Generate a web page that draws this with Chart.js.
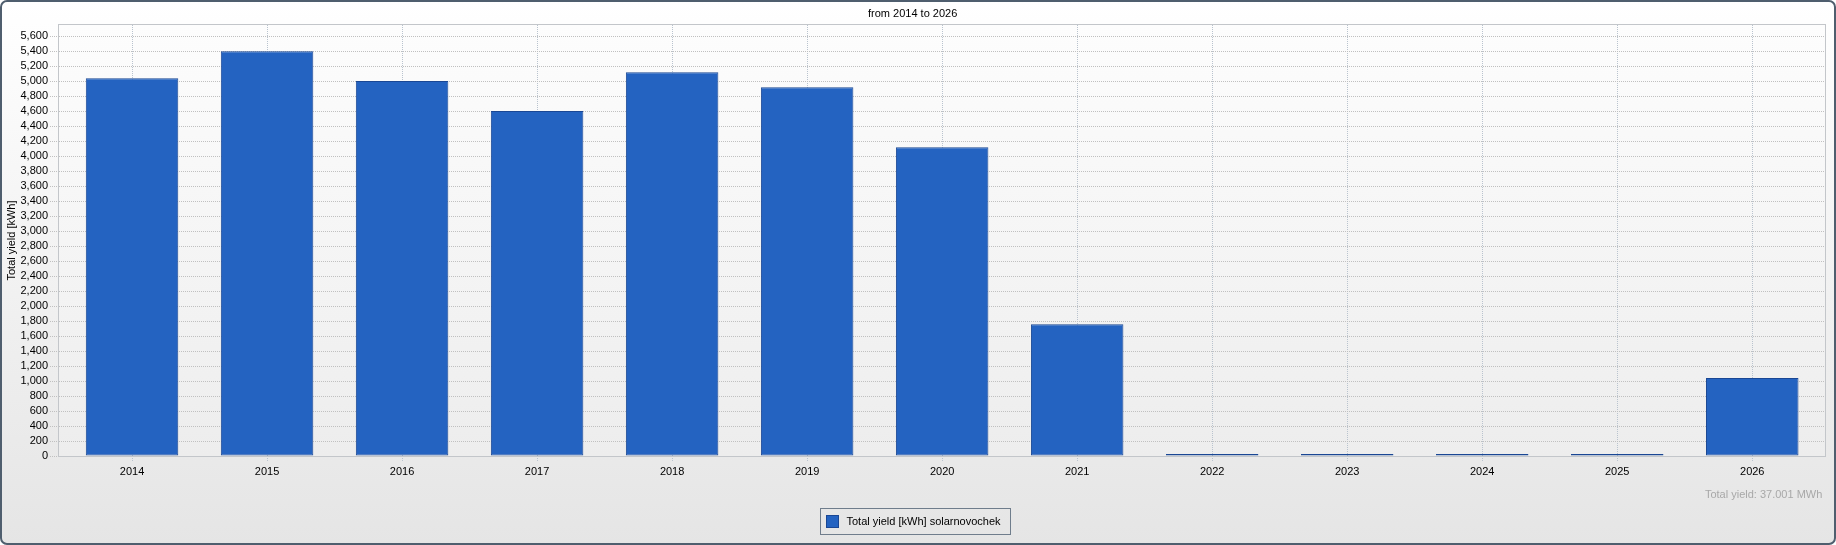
<!DOCTYPE html>
<html>
<head>
<meta charset="utf-8">
<script src="https://cdn.jsdelivr.net/npm/chart.js@4/dist/chart.umd.min.js"></script>
<style>
  html, body { margin: 0; padding: 0; background: #ffffff; overflow: hidden; }
  #wrap { position: relative; width: 1836px; height: 545px; }
</style>
</head>
<body>
<div id="wrap"><canvas id="c"></canvas></div>
<script>
// ---- data ----
const years = ['2014','2015','2016','2017','2018','2019','2020','2021','2022','2023','2024','2025','2026'];
const yieldKWh = [5036, 5396, 5000, 4600, 5116, 4916, 4116, 1756, 19, 2, 2, 2, 1040];
const seriesLabel = 'Total yield [kWh] solarnovochek';
const chartTitle = 'from 2014 to 2026';
const yAxisTitle = 'Total yield [kWh]';
const yTickStep = 200;
const yTickTop = 5600;
const yMax = 5747;

const FONT = '"Liberation Sans", Arial, sans-serif';
const BAR_FILL = '#2463c1';
const BAR_EDGE = '#1a4794';

Chart.defaults.font.family = FONT;
Chart.defaults.font.size = 11;
Chart.defaults.color = '#000000';

const framePlugin = {
  id: 'frame',
  beforeDraw(chart) {
    const ctx = chart.ctx, W = chart.width, H = chart.height;
    ctx.save();
    ctx.fillStyle = '#ffffff';
    ctx.fillRect(0, 0, W, H);
    const g = ctx.createLinearGradient(0, 0, 0, H);
    g.addColorStop(0, '#ffffff');
    g.addColorStop(1, '#e5e5e5');
    ctx.beginPath();
    ctx.roundRect(1, 1, W - 2, H - 2, 6);
    ctx.fillStyle = g;
    ctx.fill();
    ctx.lineWidth = 2;
    ctx.strokeStyle = '#4f5e6e';
    ctx.stroke();
    // plot background
    const a = chart.chartArea;
    const pg = ctx.createLinearGradient(0, a.top, 0, a.bottom);
    pg.addColorStop(0, '#fdfdfd');
    pg.addColorStop(1, '#ededed');
    ctx.fillStyle = pg;
    ctx.fillRect(a.left, a.top, a.right - a.left, a.bottom - a.top);
    ctx.restore();
  },
  beforeDatasetsDraw(chart) {
    const ctx = chart.ctx, a = chart.chartArea;
    ctx.save();
    ctx.lineWidth = 1;
    ctx.strokeStyle = '#c3c6ca';
    ctx.strokeRect(Math.round(a.left) - 0.5, Math.round(a.top) - 0.5,
                   Math.round(a.right - a.left) + 1, Math.round(a.bottom - a.top) + 1);
    ctx.restore();
  },
  afterDraw(chart) {
    const ctx = chart.ctx, a = chart.chartArea;
    ctx.save();
    // total yield note
    const total = chart.data.datasets[0].data.reduce((s, p) => s + p.y, 0);
    ctx.font = '11px ' + FONT;
    ctx.fillStyle = '#a8a8a8';
    ctx.textAlign = 'right';
    ctx.textBaseline = 'middle';
    ctx.fillText('Total yield: ' + (total / 1000).toFixed(3) + ' MWh', a.right - 3, 495);
    // legend
    const label = chart.data.datasets[0].label;
    const tw = ctx.measureText(label).width;
    const bw = Math.round(6 + 12 + 8 + tw + 10);
    const bx = Math.round(chart.width / 2 - 3 - bw / 2) + 0.5;
    const by = 508.5, bh = 26;
    ctx.lineWidth = 1;
    ctx.strokeStyle = '#6f7d8c';
    ctx.strokeRect(bx, by, bw, bh);
    ctx.fillStyle = BAR_FILL;
    ctx.fillRect(bx + 6, by + 7, 12, 12);
    ctx.strokeStyle = BAR_EDGE;
    ctx.strokeRect(bx + 6, by + 7, 12, 12);
    ctx.fillStyle = '#000000';
    ctx.textAlign = 'left';
    ctx.fillText(label, bx + 26, by + 13.5);
    ctx.restore();
  }
};

new Chart(document.getElementById('c'), {
  type: 'bar',
  data: {
    datasets: [{
      label: seriesLabel,
      data: yieldKWh.map((v, i) => ({ x: i, y: v })),
      backgroundColor: BAR_FILL,
      borderColor: BAR_EDGE,
      borderWidth: 1,
      borderSkipped: false,
      minBarLength: 2,
      barPercentage: 0.685,
      categoryPercentage: 1.0
    }]
  },
  options: {
    responsive: true,
    maintainAspectRatio: false,
    animation: false,
    layout: { padding: { left: 0, right: 10.7, top: 0, bottom: 0 } },
    plugins: {
      legend: { display: false },
      tooltip: { enabled: false },
      title: {
        display: true,
        text: chartTitle,
        color: '#000000',
        font: { size: 11, weight: 'normal', family: FONT },
        padding: { top: 7, bottom: 4.8 }
      }
    },
    scales: {
      x: {
        type: 'linear',
        min: -0.541,
        max: years.length - 1 + 0.541,
        offset: false,
        afterBuildTicks(scale) {
          scale.ticks = years.map((y, i) => ({ value: i }));
        },
        afterFit(scale) { scale.height = 89; },
        ticks: {
          stepSize: 1,
          autoSkip: false,
          maxRotation: 0,
          padding: 3,
          color: '#000000',
          callback: (v) => years[v]
        },
        grid: {
          offset: false,
          color: '#b9c3ce',
          lineWidth: 1,
          tickLength: 6,
          tickBorderDash: [1, 1],
          tickColor: '#b9c3ce'
        },
        border: { display: false, dash: [1, 1] }
      },
      y: {
        min: 0,
        max: yMax,
        afterBuildTicks(scale) {
          const t = [];
          for (let v = 0; v <= yTickTop; v += yTickStep) t.push({ value: v });
          scale.ticks = t;
        },
        afterFit(scale) { scale.width = 59; },
        ticks: {
          stepSize: yTickStep,
          autoSkip: false,
          padding: 2,
          color: '#000000',
          callback: (v) => v.toLocaleString('en-US')
        },
        grid: {
          color: '#c0c0c0',
          lineWidth: 1,
          tickLength: 9,
          tickBorderDash: [1, 1],
          tickColor: '#c0c0c0'
        },
        border: { display: false, dash: [1, 1] },
        title: {
          display: true,
          text: yAxisTitle,
          color: '#000000',
          font: { size: 11, family: FONT },
          padding: { top: 5, bottom: 0 }
        }
      }
    }
  },
  plugins: [framePlugin]
});
</script>
</body>
</html>
